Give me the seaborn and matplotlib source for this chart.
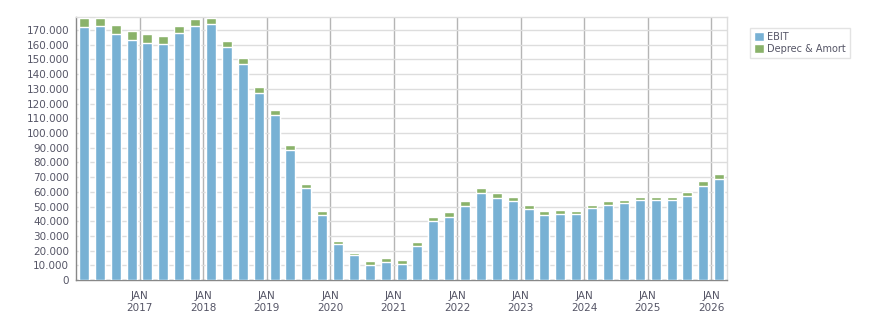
import numpy as np
import pandas as pd
import seaborn as sns
import matplotlib.pyplot as plt
from matplotlib.patches import Patch
from matplotlib.ticker import FuncFormatter, MultipleLocator, FixedLocator

# Quarterly values, Q1 2016 .. Q1 2026
ebit = [172100, 173000, 167600, 163500, 161200, 160800, 168000, 173000,
        174400, 158500, 147200, 127200, 112200, 88400, 62800, 44200,
        24700, 16800, 10200, 12500, 11100, 23300, 40100, 42900,
        50600, 59200, 56000, 53700, 48300, 44200, 45100, 45100,
        49200, 51000, 52400, 54600, 54600, 54600, 57300, 64200, 68700]
total = [178400, 178400, 173500, 169400, 167300, 166000, 172800, 177600,
         178400, 162600, 151000, 131500, 115900, 91800, 65500, 47100,
         26700, 18600, 13100, 15200, 13800, 26100, 43100, 46500,
         54000, 62800, 59400, 56700, 51200, 47100, 47800, 47100,
         51200, 54000, 54600, 56700, 56700, 56700, 60100, 67600, 72300]
years = list(range(2017, 2027))

blue = "#78b1d4"
green = "#8ab26a"
txt = "#555566"

quarters = [2016 + 0.25 * i + 0.125 for i in range(len(ebit))]
df = pd.DataFrame({"x": quarters, "EBIT": ebit, "total": total})

sns.set_style("white")
plt.rcParams["font.family"] = ["DejaVu Sans"]

fig = plt.figure(figsize=(8.76, 3.13), dpi=100)
ax = fig.add_axes([0.0868, 0.1054, 0.7432, 0.8403])

# stacked look: draw totals (green), then EBIT over it (blue)
sns.barplot(data=df, x="x", y="total", native_scale=True, color=green,
            width=0.63, saturation=1, ax=ax, zorder=3)
sns.barplot(data=df, x="x", y="EBIT", native_scale=True, color=blue,
            width=0.63, saturation=1, ax=ax, zorder=4)

ax.set_xlim(2016, 2026.25)
ax.set_ylim(0, 178900)
ax.set_xlabel("")
ax.set_ylabel("")

ax.yaxis.set_major_locator(MultipleLocator(10000))
ax.yaxis.set_major_formatter(FuncFormatter(lambda v, p: f"{v:,.0f}".replace(",", ".")))
ax.xaxis.set_major_locator(FixedLocator(years))
ax.set_xticklabels([f"JAN\n{y}" for y in years])
ax.xaxis.set_minor_locator(FixedLocator([2016 + 0.25 * i for i in range(42)]))

ax.tick_params(axis="y", length=4, width=1, color="#777777", labelsize=7.5,
               labelcolor=txt, pad=1)
ax.tick_params(axis="x", which="major", length=5, width=1, color="#777777",
               labelsize=7.5, labelcolor=txt, pad=3)
ax.tick_params(axis="x", which="minor", length=3, width=1, color="#777777")

ax.grid(axis="y", color="#dddddd", linewidth=1, zorder=0)
ax.grid(axis="x", which="major", color="#b5b5b5", linewidth=1, zorder=1)
ax.set_axisbelow(True)

for s in ["left", "bottom"]:
    ax.spines[s].set_color("#888888")
    ax.spines[s].set_linewidth(1)
for s in ["top", "right"]:
    ax.spines[s].set_color("#dddddd")
    ax.spines[s].set_linewidth(1)

handles = [Patch(facecolor=blue, label="EBIT"),
           Patch(facecolor=green, label="Deprec & Amort")]
leg = fig.legend(handles=handles, loc="upper left", bbox_to_anchor=(0.856, 0.912),
                 frameon=True, fancybox=False, fontsize=7.0, handlelength=1.0,
                 handleheight=1.0, handletextpad=0.3, borderpad=0.45,
                 labelspacing=0.2, labelcolor=txt, borderaxespad=0)
leg.get_frame().set_edgecolor("#dddddd")
leg.get_frame().set_linewidth(1)

fig.savefig("out.png", dpi=100)
